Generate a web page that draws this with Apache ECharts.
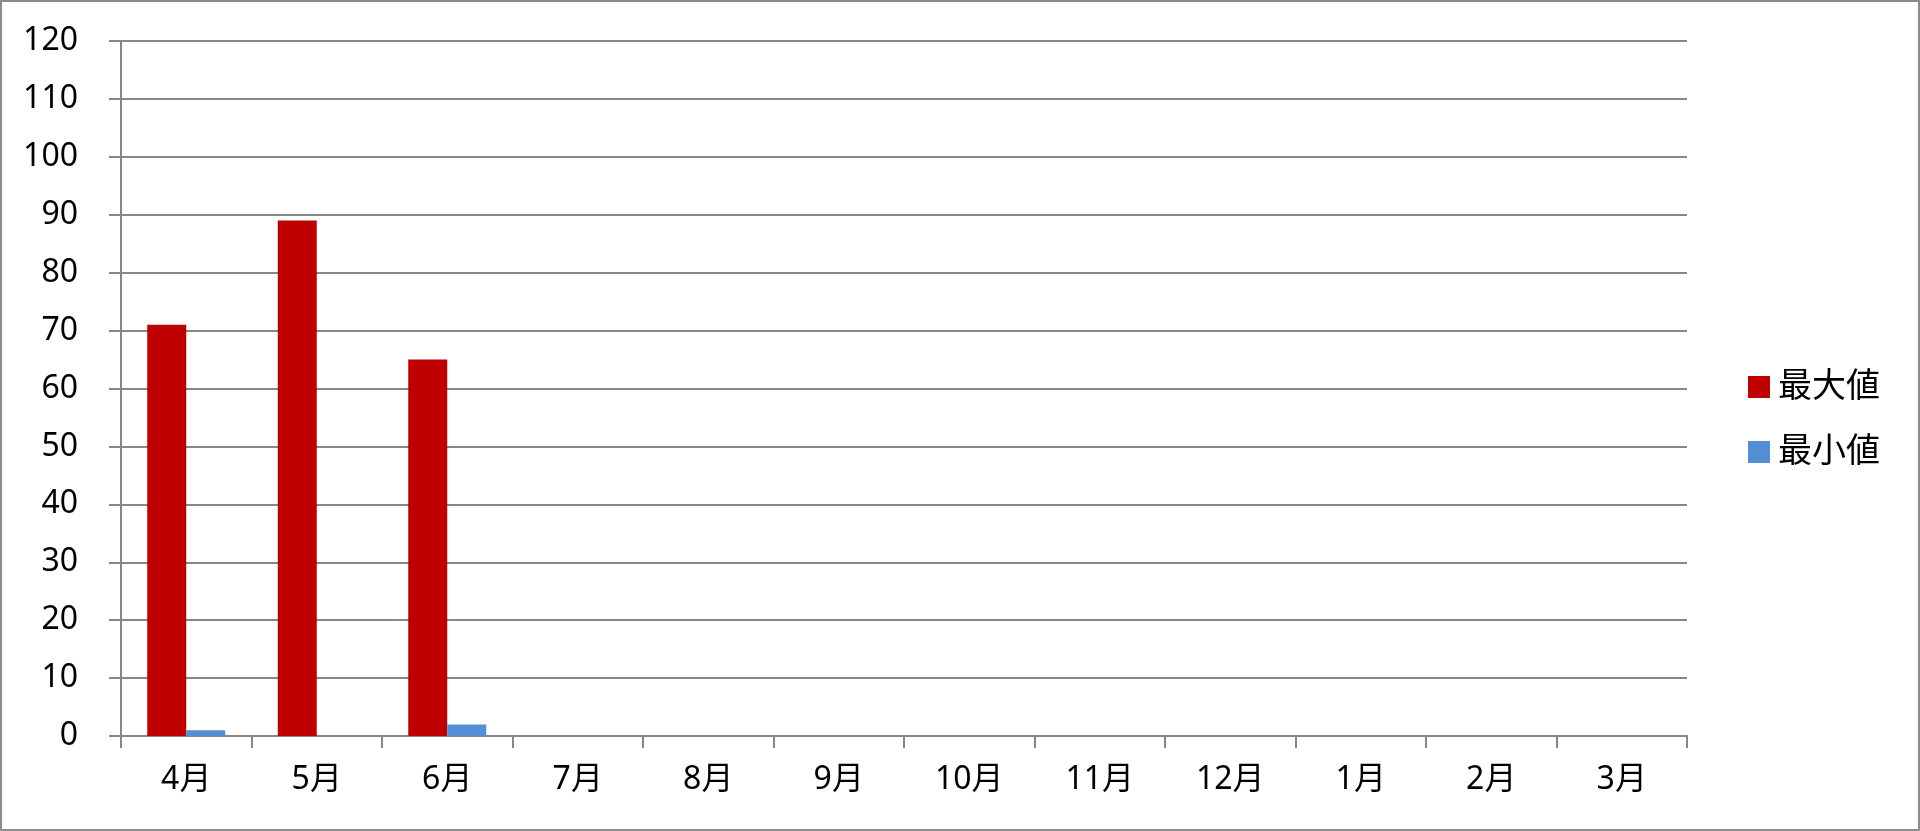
<!DOCTYPE html>
<html>
<head>
	<meta charset="utf-8">
	<title>最大値・最小値</title>
	<script src="https://cdn.jsdelivr.net/npm/echarts@6/dist/echarts.min.js"></script>
    <style>
        html, body { margin: 0; padding: 0; background: #fff; }
        #echarts {
            width: 1920px;
            height: 831px;
            box-sizing: border-box;
            border: 2px solid #8c8c8c;
        }
    </style>
</head>
<body>
	<div id="echarts"></div>
	<script>
    var months = ['4月', '5月', '6月', '7月', '8月', '9月', '10月', '11月', '12月', '1月', '2月', '3月'];
    var maxValues = [71, 89, 65, null, null, null, null, null, null, null, null, null];
    var minValues = [1, 0, 2, null, null, null, null, null, null, null, null, null];
    var yTicks = [0, 10, 20, 30, 40, 50, 60, 70, 80, 90, 100, 110, 120];

    var fontFamily = '"Noto Sans", "Noto Sans CJK JP", sans-serif';
    var gridColor = '#878787';

		let myChart = echarts.init(document.getElementById('echarts'));
		let option = {
            animation: false,
            textStyle: { fontFamily: fontFamily },
            legend: {
                orient: 'vertical',
                left: 1741,
                top: 363,
                icon: 'rect',
                itemWidth: 22,
                itemHeight: 22,
                itemGap: 31,
                textStyle: { fontSize: 34, color: '#000', fontFamily: fontFamily, padding: [0, 0, 0, 3] },
                data: ['最大値', '最小値']
            },
            grid: {
                left: 119,
                right: 231,
                top: 39,
                bottom: 93
            },
            xAxis: {
                type: 'category',
                data: months,
                axisLine: { lineStyle: { color: gridColor, width: 2 } },
                axisTick: { show: true, length: 12, lineStyle: { color: gridColor, width: 2 } },
                axisLabel: { color: '#000', fontSize: 32, margin: 28 },
                splitLine: { show: false }
            },
            yAxis: {
                type: 'value',
                min: yTicks[0],
                max: yTicks[yTicks.length - 1],
                interval: yTicks[1] - yTicks[0],
                axisLine: { show: true, lineStyle: { color: gridColor, width: 2 } },
                axisTick: { show: true, length: 12, lineStyle: { color: gridColor, width: 2 } },
                axisLabel: { color: '#000', fontSize: 32, margin: 43 },
                splitLine: { show: true, lineStyle: { color: gridColor, width: 2 } }
            },
            series: [
                {
                    name: '最大値',
                    type: 'bar',
                    barWidth: 39,
                    barGap: '0%',
                    itemStyle: { color: '#c00000' },
                    data: maxValues
                },
                {
                    name: '最小値',
                    type: 'bar',
                    barWidth: 39,
                    barGap: '0%',
                    itemStyle: { color: '#558ed5' },
                    data: minValues
                }
            ]
        };
    myChart.setOption(option);
	</script>
</body>
</html>
